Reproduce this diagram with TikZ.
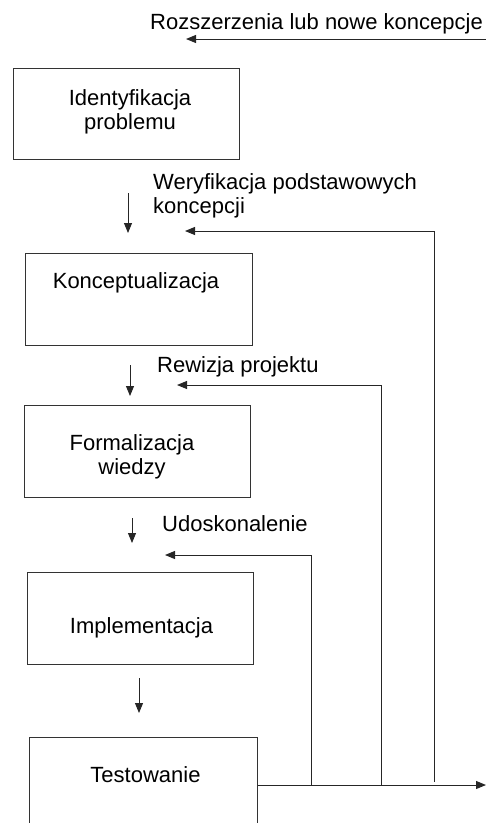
\documentclass[tikz,border=0pt]{standalone}
\usepackage{fontspec}
\setmainfont{Liberation Sans}
\usetikzlibrary{arrows.meta}
\begin{document}
\begin{tikzpicture}[x=1bp,y=-1bp,
  box/.style={draw=black!80, line width=1bp, rectangle, inner sep=0pt},
  lbl/.style={inner sep=0pt, font=\fontsize{22bp}{24bp}\selectfont},
  arr/.style={draw=black!85, line width=1bp, -{Triangle[length=10bp,width=8bp]}},
  ln/.style={draw=black!85, line width=1bp}]
\useasboundingbox (0,0) rectangle (486,823);

% process stages
\node[box, minimum width=225bp, minimum height=91bp] (ident) at (126.5,113.5) {};
\node[box, minimum width=226bp, minimum height=92bp] (konc)  at (139,299) {};
\node[box, minimum width=225bp, minimum height=92bp] (form)  at (137.5,451) {};
\node[box, minimum width=225bp, minimum height=92bp] (impl)  at (140.5,618.5) {};
\node[box, minimum width=227bp, minimum height=96bp] (test)  at (143.5,785) {};

% stage names (base anchor sits on the last line of a multi-line node)
\node[lbl, align=center, anchor=base] (tIdent) at (130,129) {Identyfikacja\\problemu};
\node[lbl, anchor=base] (tKonc) at (136,288) {Konceptualizacja};
\node[lbl, align=center, anchor=base] (tForm) at (132,474) {Formalizacja\\wiedzy};
\node[lbl, anchor=base] (tImpl) at (141.5,633) {Implementacja};
\node[lbl, anchor=base] (tTest) at (145.5,782) {Testowanie};

% feedback labels
\node[lbl, anchor=base west] (lRozsz) at (150,29) {Rozszerzenia lub nowe koncepcje};
\node[lbl, anchor=base west, align=left] (lWeryf) at (153,213) {Weryfikacja podstawowych\\koncepcji};
\node[lbl, anchor=base west] (lRew) at (157,372) {Rewizja projektu};
\node[lbl, anchor=base west] (lUdo) at (162,531) {Udoskonalenie};

% forward arrows between stages
\coordinate (d1s) at (128,193); \coordinate (d1e) at (128,233);
\coordinate (d2s) at (130,365); \coordinate (d2e) at (130,396);
\coordinate (d3s) at (132,518); \coordinate (d3e) at (132,543);
\coordinate (d4s) at (139,678); \coordinate (d4e) at (139,713);
\draw[arr] (d1s) -- (d1e);
\draw[arr] (d2s) -- (d2e);
\draw[arr] (d3s) -- (d3e);
\draw[arr] (d4s) -- (d4e);

% output line leaving the testing stage
\coordinate (out) at (486,785);
\draw[arr] (test.east) -- (out);

% feedback loops back to earlier stages
\coordinate (j1) at (311,785); \coordinate (f1) at (165,555);
\coordinate (j2) at (381,785); \coordinate (f2) at (177,385);
\coordinate (j3) at (434,782); \coordinate (f3) at (185,231);
\draw[arr] (j1) |- (f1);
\draw[arr] (j2) |- (f2);
\draw[arr] (j3) |- (f3);

% extensions / new concepts
\coordinate (topR) at (486,39); \coordinate (topL) at (186,39);
\draw[arr] (topR) -- (topL);
\end{tikzpicture}
\end{document}
